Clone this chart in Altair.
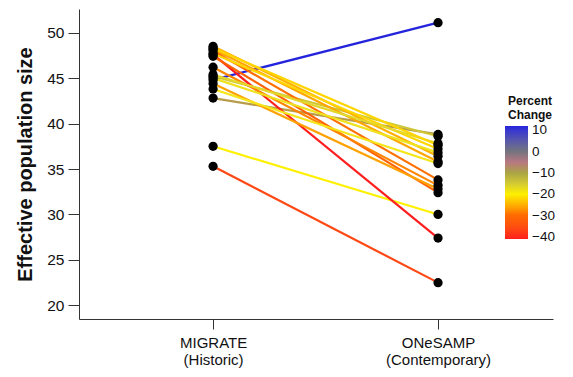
import altair as alt
import pandas as pd

# values
historic = [44.8, 42.8, 45.2, 37.5, 35.3, 47.6, 48.5, 48.2, 48.0, 47.7, 47.4, 46.2, 45.4, 45.0, 44.4, 43.8, 48.3]
contemporary = [51.1, 38.8, 38.6, 30.0, 22.5, 27.4, 36.4, 35.8, 33.8, 37.2, 32.4, 33.2, 37.8, 36.8, 32.8, 35.6, 37.6]
methods = ["MIGRATE\n(Historic)", "ONeSAMP\n(Contemporary)"]
legend_values = [-40, -30, -20, -10, 0, 10]
color_domain = [-41, -30, -20, -10, 0, 12]
color_range = ["#ff1e1e", "#ff6a00", "#fff000", "#aaa444", "#74747e", "#2424dc"]

seg = pd.DataFrame({
    "id": list(range(len(historic))),
    "x0": 0, "x1": 1,
    "historic": historic,
    "contemporary": contemporary,
})
seg["pct"] = (seg["contemporary"] - seg["historic"]) / seg["historic"] * 100

pts = pd.DataFrame({
    "x": [0] * len(historic) + [1] * len(contemporary),
    "y": historic + contemporary,
})

label_expr = ("datum.value == 0 ? ['MIGRATE', '(Historic)'] : "
              "(datum.value == 1 ? ['ONeSAMP', '(Contemporary)'] : '')")

xscale = alt.Scale(domain=[-0.596, 1.511], nice=False, zero=False)
yscale = alt.Scale(domain=[18.5, 52.6], nice=False, zero=False)

xaxis = alt.Axis(values=[0, 1], labelExpr=label_expr, title=None, grid=False,
                 tickSize=10, labelFontSize=15, labelPadding=6, labelLineHeight=17,
                 labelFont="Liberation Sans", labelColor="#111",
                 domainColor="#333", tickColor="#333")
yaxis = alt.Axis(values=[20, 25, 30, 35, 40, 45, 50], title="Effective population size",
                 grid=False, tickSize=11, labelFontSize=15.5, labelPadding=4,
                 labelFont="Liberation Sans", labelColor="#111",
                 titleFont="Liberation Sans", titleFontSize=20, titleFontWeight="bold",
                 titleColor="#111", titlePadding=11,
                 domainColor="#333", tickColor="#333")

rules = alt.Chart(seg).mark_rule(strokeWidth=2.2).encode(
    x=alt.X("x0:Q", scale=xscale, axis=xaxis),
    x2="x1",
    y=alt.Y("historic:Q", scale=yscale, axis=yaxis),
    y2="contemporary",
    color=alt.Color(
        "pct:Q",
        scale=alt.Scale(domain=color_domain, range=color_range, clamp=True),
        legend=alt.Legend(
            title=["Percent", "Change"], values=legend_values,
            orient="none", legendX=426, legendY=87,
            gradientLength=113, gradientThickness=23, gradientStrokeWidth=0,
            titleFont="Liberation Sans", titleFontSize=12, titleFontWeight="bold",
            titleColor="#111", titleAnchor="middle", titleAlign="center", titlePadding=4,
            labelFont="Liberation Sans", labelFontSize=13.5, labelColor="#111",
            labelOffset=4, tickCount=6,
        ),
    ),
)

points = alt.Chart(pts).mark_circle(size=85, color="black", opacity=1).encode(
    x=alt.X("x:Q", scale=xscale),
    y=alt.Y("y:Q", scale=yscale),
)

chart = (rules + points).properties(
    width=474, height=310,
    autosize=alt.AutoSizeParams(type="none"),
    padding={"left": 71, "top": 1, "right": 12, "bottom": 50},
).configure_view(stroke=None)

chart.save("out.html", embed_options={"renderer": "svg", "actions": False})
